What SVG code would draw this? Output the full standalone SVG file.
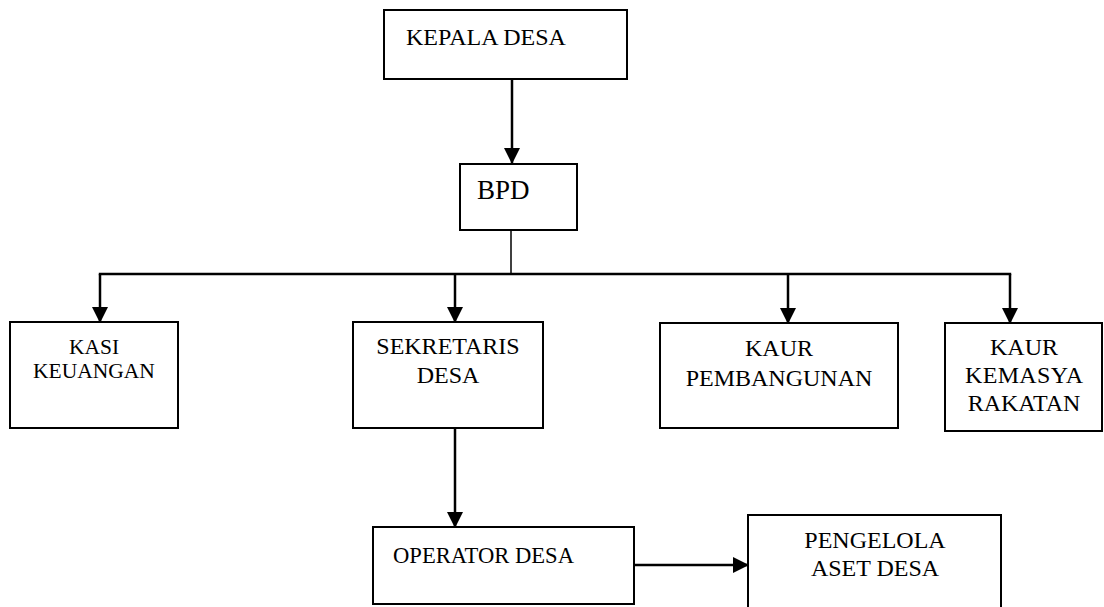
<svg xmlns="http://www.w3.org/2000/svg" width="1104" height="607" viewBox="0 0 1104 607">
<style>
.box{fill:#fff;stroke:#000;stroke-width:2}
.t{font-family:"Liberation Serif","Times New Roman",Times,serif;font-size:24px;fill:#000}
.c{text-anchor:middle}
.ln{fill:none;stroke:#000;stroke-width:2.5}
</style>
<defs>
<marker id="ah" markerUnits="userSpaceOnUse" markerWidth="16" markerHeight="16" viewBox="0 0 16 16" refX="15" refY="8" orient="auto">
<path d="M0,0 L16,8 L0,16 Z" fill="#000"/>
</marker>
</defs>
<rect width="1104" height="607" fill="#fff"/>
<g id="connectors">
<line class="ln" x1="512" y1="79" x2="512" y2="163" marker-end="url(#ah)"/>
<line x1="511" y1="230" x2="511" y2="273" stroke="#000" stroke-width="1.5"/>
<line class="ln" x1="98.8" y1="274" x2="1011.2" y2="274"/>
<line class="ln" x1="100" y1="274" x2="100" y2="322" marker-end="url(#ah)"/>
<line class="ln" x1="455" y1="274" x2="455" y2="322" marker-end="url(#ah)"/>
<line class="ln" x1="788" y1="274" x2="788" y2="323" marker-end="url(#ah)"/>
<line class="ln" x1="1010" y1="274" x2="1010" y2="323" marker-end="url(#ah)"/>
<line class="ln" x1="455" y1="428" x2="455" y2="527" marker-end="url(#ah)"/>
<line class="ln" x1="634" y1="565" x2="748" y2="565" marker-end="url(#ah)"/>
</g>
<g id="kepala">
<rect class="box" x="384" y="10" width="243" height="69"/>
<text class="t" x="406" y="45">KEPALA DESA</text>
</g>
<g id="bpd">
<rect class="box" x="460" y="164" width="117" height="66"/>
<text class="t" x="477" y="199" style="font-size:27px">BPD</text>
</g>
<g id="kasi">
<rect class="box" x="10" y="322" width="168" height="106"/>
<text class="t c" x="94" y="354" style="font-size:21.5px">KASI</text>
<text class="t c" x="94" y="378" style="font-size:21.5px">KEUANGAN</text>
</g>
<g id="sekretaris">
<rect class="box" x="353" y="322" width="190" height="106"/>
<text class="t c" x="448" y="354">SEKRETARIS</text>
<text class="t c" x="448" y="383">DESA</text>
</g>
<g id="pembangunan">
<rect class="box" x="660" y="323" width="238" height="105"/>
<text class="t c" x="779" y="356">KAUR</text>
<text class="t c" x="779" y="386">PEMBANGUNAN</text>
</g>
<g id="kemasyarakatan">
<rect class="box" x="945" y="323" width="157" height="108"/>
<text class="t c" x="1024" y="355">KAUR</text>
<text class="t c" x="1024" y="383" textLength="118" lengthAdjust="spacing">KEMASYA</text>
<text class="t c" x="1024" y="411">RAKATAN</text>
</g>
<g id="operator">
<rect class="box" x="373" y="527" width="261" height="77"/>
<text class="t" x="393" y="563" style="font-size:22.6px">OPERATOR DESA</text>
</g>
<g id="pengelola">
<rect class="box" x="748" y="515" width="253" height="100"/>
<text class="t c" x="875" y="548">PENGELOLA</text>
<text class="t c" x="875" y="576">ASET DESA</text>
</g>
</svg>
